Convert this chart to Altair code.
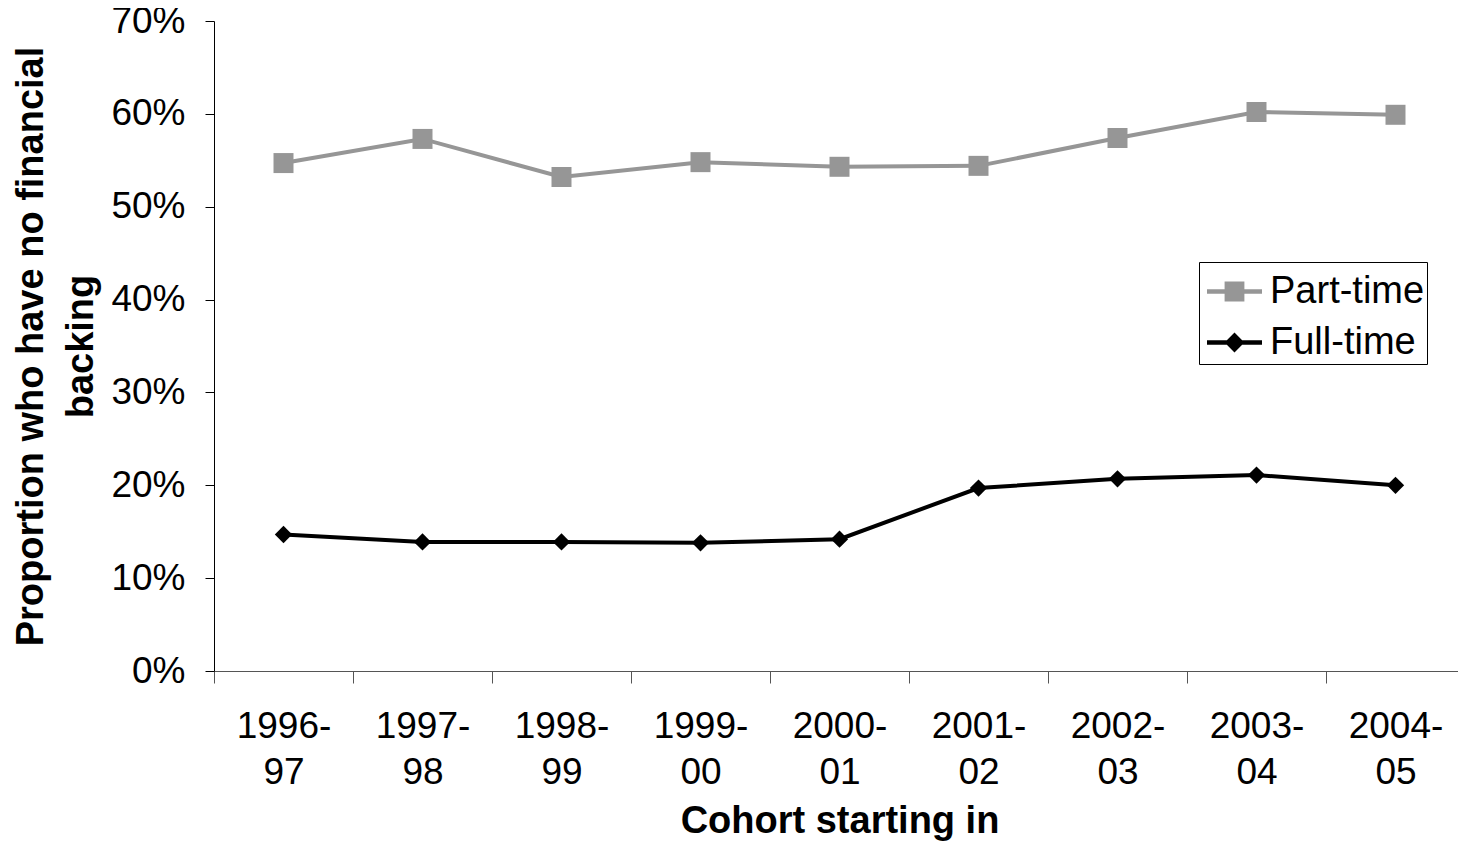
import altair as alt
import pandas as pd

cohorts = ["1996-97", "1997-98", "1998-99", "1999-00", "2000-01",
           "2001-02", "2002-03", "2003-04", "2004-05"]
part_time = [54.7, 57.3, 53.2, 54.8, 54.3, 54.4, 57.4, 60.2, 59.9]
full_time = [14.7, 13.9, 13.9, 13.8, 14.2, 19.7, 20.7, 21.1, 20.0]
series_names = ["Part-time", "Full-time"]
series_colors = ["#969696", "#000000"]
marker_shapes = ["square", "diamond"]
legend_shapes = [
    "M-1,-0.085H1V0.085H-1Z M-0.36,-0.36H0.36V0.36H-0.36Z",
    "M-1,-0.085H1V0.085H-1Z M0,-0.36L0.36,0L0,0.36L-0.36,0Z",
]
y_ticks = [0, 0.1, 0.2, 0.3, 0.4, 0.5, 0.6, 0.7]

rows = []
for name, vals in zip(series_names, [part_time, full_time]):
    for c, v in zip(cohorts, vals):
        rows.append({"cohort": c, "series": name, "value": v / 100})
df = pd.DataFrame(rows)

FONT = "Liberation Sans"

x_enc = alt.X(
    "cohort:N", sort=cohorts,
    scale=alt.Scale(type="band", paddingInner=0, paddingOuter=0, range=[0, 1251]),
    axis=alt.Axis(
        title="Cohort starting in",
        labelExpr="[slice(datum.label, 0, 5), slice(datum.label, 5)]",
        labelAngle=0, tickBand="extent", tickSize=12, tickColor="#555555",
        domainColor="#555555", labelFontSize=37, labelLineHeight=46,
        labelPadding=25, labelColor="#000000", titleFontSize=38,
        titleFontWeight="bold", titlePadding=12, titleColor="#000000",
        grid=False,
    ),
)
y_enc = alt.Y(
    "value:Q",
    scale=alt.Scale(domain=[0, 0.7]),
    axis=alt.Axis(
        title=["Proportion who have no financial", "backing"],
        format=".0%", values=y_ticks, grid=False, tickSize=9,
        tickColor="#000000", domainColor="#000000", labelFontSize=37,
        labelPadding=20, labelColor="#000000", titleFontSize=38,
        titleFontWeight="bold", titleLineHeight=50, titlePadding=10,
        titleColor="#000000",
    ),
)

color_plain = alt.Color("series:N", scale=alt.Scale(domain=series_names, range=series_colors), legend=None)

lines = alt.Chart(df).mark_line(strokeWidth=4).encode(x=x_enc, y=y_enc, color=color_plain, detail="series:N")

points = alt.Chart(df).mark_point(filled=True, opacity=1).encode(
    x=x_enc, y=y_enc, color=color_plain,
    shape=alt.Shape("series:N", scale=alt.Scale(domain=series_names, range=marker_shapes), legend=None),
    size=alt.Size("series:N", scale=alt.Scale(domain=series_names, range=[400, 300]), legend=None),
)

leg = dict(orient="none", legendX=985, legendY=241, title=None, strokeColor="#000000",
           fillColor="#ffffff", padding=2, labelFontSize=38, labelFont=FONT,
           labelColor="#000000", symbolSize=3025, symbolOffset=6, labelOffset=8,
           rowPadding=4, symbolOpacity=1, symbolStrokeWidth=0)

legend_layer = alt.Chart(df).mark_point(filled=True, opacity=0).encode(
    x=x_enc, y=y_enc,
    color=alt.Color("series:N", scale=alt.Scale(domain=series_names, range=series_colors), legend=alt.Legend(**leg)),
    shape=alt.Shape("series:N", scale=alt.Scale(domain=series_names, range=legend_shapes), legend=alt.Legend(**leg)),
)

chart = alt.layer(lines, points, legend_layer).resolve_scale(
    color="independent", shape="independent"
).properties(
    width=1244, height=650,
    padding={"left": 206, "top": 13, "right": 0, "bottom": 174},
    autosize=alt.AutoSizeParams(type="none"),
).configure(font=FONT).configure_view(stroke=None)

chart.save("out.html", embed_options={"renderer": "svg", "actions": False})
